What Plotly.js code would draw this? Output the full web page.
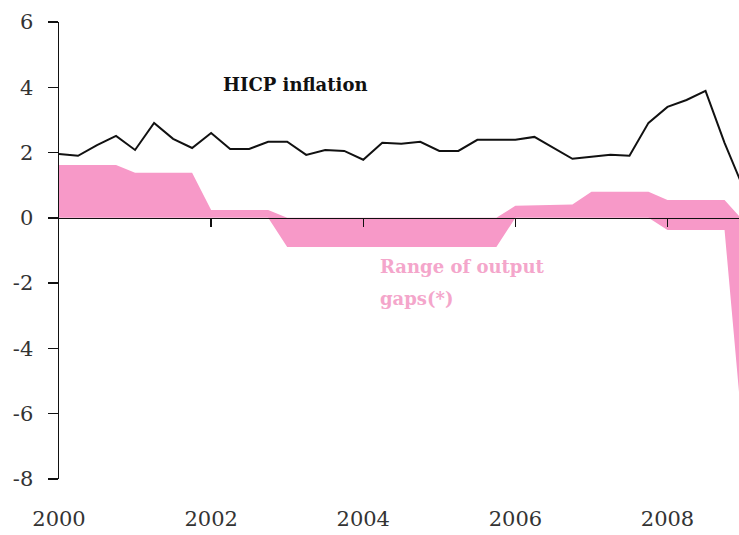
<!DOCTYPE html>
<html>
<head>
<meta charset="utf-8">
<script src="https://cdn.plot.ly/plotly-3.0.1.min.js"></script>
<style>html,body{margin:0;padding:0;background:#fff;}#chart{width:739px;height:535px;}</style>
</head>
<body>
<div id="chart"></div>
<script>
// Quarterly observation dates (decimal years)
const quarters = [2000, 2000.25, 2000.5, 2000.75, 2001, 2001.25, 2001.5, 2001.75,
  2002, 2002.25, 2002.5, 2002.75, 2003, 2003.25, 2003.5, 2003.75,
  2004, 2004.25, 2004.5, 2004.75, 2005, 2005.25, 2005.5, 2005.75,
  2006, 2006.25, 2006.5, 2006.75, 2007, 2007.25, 2007.5, 2007.75,
  2008, 2008.25, 2008.5, 2008.75, 2009];

// HICP inflation (% y/y)
const hicp = [1.96, 1.90, 2.23, 2.51, 2.08, 2.91, 2.42, 2.14,
  2.60, 2.11, 2.11, 2.33, 2.33, 1.93, 2.08, 2.05,
  1.78, 2.30, 2.27, 2.33, 2.05, 2.05, 2.39, 2.39,
  2.39, 2.48, 2.14, 1.81, 1.87, 1.93, 1.90, 2.91,
  3.40, 3.61, 3.89, 2.30, 0.90];

// Range of output gaps: upper and lower bounds
const gapUpper = [1.62, 1.62, 1.62, 1.62, 1.38, 1.38, 1.38, 1.38,
  0.24, 0.24, 0.24, 0.24, 0, 0, 0, 0,
  0, 0, 0, 0, 0, 0, 0, 0,
  0.37, 0.38, 0.39, 0.41, 0.80, 0.80, 0.80, 0.80,
  0.55, 0.55, 0.55, 0.55, -0.10];
const gapLower = [0, 0, 0, 0, 0, 0, 0, 0,
  0, 0, 0, 0, -0.89, -0.89, -0.89, -0.89,
  -0.89, -0.89, -0.89, -0.89, -0.89, -0.89, -0.89, -0.89,
  0, 0, 0, 0, 0, 0, 0, 0,
  -0.37, -0.37, -0.37, -0.37, -6.90];

const yTicks = [-8, -6, -4, -2, 0, 2, 4, 6];
const yTickText = ['-8', '-6', '-4', '-2', '0', '2', '4', '6'];
const xLabelYears = [2000, 2002, 2004, 2006, 2008];
const xTickYears = [2002, 2004, 2006, 2008];

const PINK = '#f799c8';
const serif = 'DejaVu Serif';
const xRange = [2000, 2008.94];

const traces = [
  {x: quarters, y: gapLower, type: 'scatter', mode: 'lines', line: {width: 0, color: PINK},
   xaxis: 'x', yaxis: 'y', hoverinfo: 'skip'},
  {x: quarters, y: gapUpper, type: 'scatter', mode: 'lines', line: {width: 0, color: PINK},
   fill: 'tonexty', fillcolor: PINK, xaxis: 'x', yaxis: 'y', name: 'Range of output gaps(*)'},
  {x: quarters, y: hicp, type: 'scatter', mode: 'lines', line: {width: 2, color: '#111'},
   xaxis: 'x2', yaxis: 'y', name: 'HICP inflation'}
];

const layout = {
  width: 739, height: 535,
  margin: {l: 59, r: 0, t: 22, b: 56},
  paper_bgcolor: '#fff', plot_bgcolor: '#fff',
  showlegend: false,
  font: {family: serif, color: '#222'},
  yaxis: {
    range: [-8, 6], tickvals: yTicks, ticktext: yTickText,
    ticks: 'outside', ticklen: 10, tickwidth: 1.5, tickcolor: '#111',
    showline: true, linecolor: '#111', linewidth: 1.5,
    showgrid: false, zeroline: false, ticklabelstandoff: 10,
    tickfont: {family: serif, size: 21, color: '#333'}
  },
  xaxis: {
    range: xRange, anchor: 'free', position: 8 / 14,
    showline: true, linecolor: '#111', linewidth: 1.5,
    ticks: 'outside', ticklen: 8, tickwidth: 1.5, tickcolor: '#111',
    tickvals: xTickYears, showticklabels: false,
    showgrid: false, zeroline: false
  },
  xaxis2: {
    range: xRange, overlaying: 'x', anchor: 'y', side: 'bottom',
    tickvals: xLabelYears, ticktext: xLabelYears.map(String),
    ticks: 'outside', ticklen: 21, tickcolor: 'rgba(0,0,0,0)',
    showline: false, showgrid: false, zeroline: false,
    tickfont: {family: serif, size: 21, color: '#333'}
  },
  annotations: [
    {text: '<b>HICP inflation</b>', xref: 'x', yref: 'y', x: 2003.1, y: 4.1,
     showarrow: false, xanchor: 'center', yanchor: 'middle',
     font: {family: serif, size: 18, color: '#111'}},
    {text: '<b>Range of output</b>', xref: 'x', yref: 'y', x: 2004.2, y: -1.5,
     showarrow: false, xanchor: 'left', yanchor: 'middle', align: 'left',
     font: {family: serif, size: 18, color: '#f4a6cb'}},
    {text: '<b>gaps(*)</b>', xref: 'x', yref: 'y', x: 2004.2, y: -2.48,
     showarrow: false, xanchor: 'left', yanchor: 'middle', align: 'left',
     font: {family: serif, size: 18, color: '#f4a6cb'}}
  ]
};

Plotly.newPlot('chart', traces, layout, {displayModeBar: false, staticPlot: true});
</script>
</body>
</html>
